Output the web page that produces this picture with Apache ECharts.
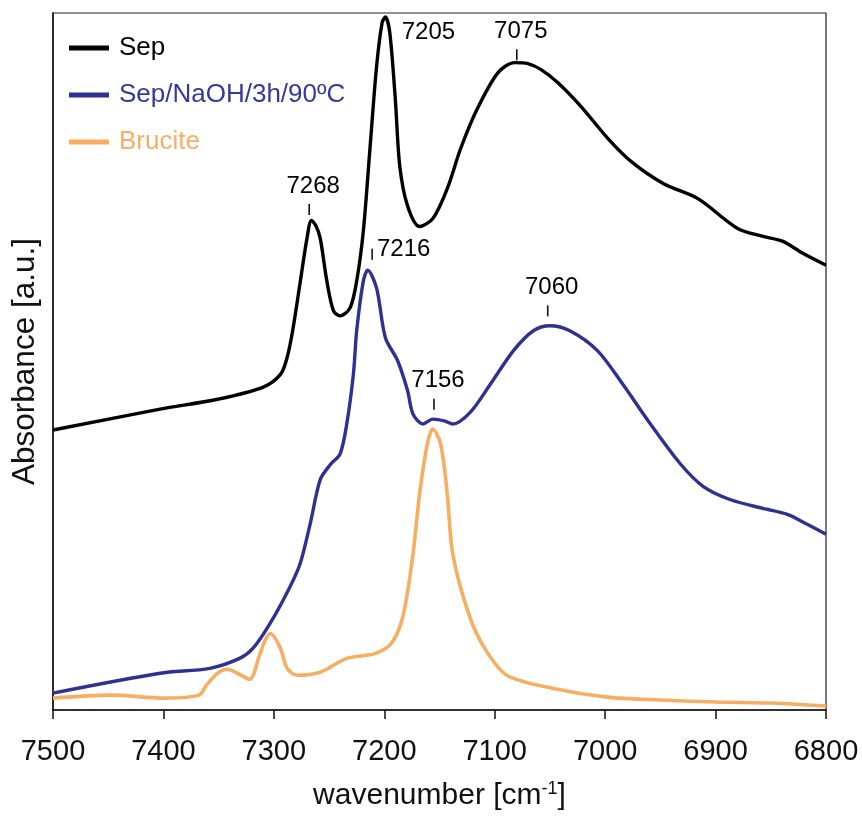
<!DOCTYPE html>
<html>
<head>
<meta charset="utf-8">
<script src="https://cdn.jsdelivr.net/npm/echarts@6/dist/echarts.min.js"></script>
<style>
html,body{margin:0;padding:0;background:#fff;}
#chart{width:862px;height:816px;}
</style>
</head>
<body>
<div id="chart"></div>
<script>
// ---- data (wavenumber in cm-1, absorbance in arbitrary units) ----
var seriesNames = ['Sep', 'Sep/NaOH/3h/90ºC', 'Brucite'];

var sepWn  = [7500,7403,7351,7310,7294,7288,7283,7276,7270,7266,7262,7258,7252,7246,7240,7231,7225,7219,7213,7207,7202,7199,7195,7190,7186,7179,7168,7156,7143,7131,7116,7097,7082,7070,7058,7043,7022,6997,6976,6947,6916,6880,6857,6839,6821,6800];
var sepAbs = [282,303,313,325,338,355,382,432,475,493,488,475,432,402,397,405,432,482,565,648,692,698,682,615,548,508,487,495,525,565,605,642,652,651,645,632,608,575,552,530,515,485,477,472,460,448];

var naohWn  = [7500,7403,7358,7331,7319,7303,7285,7276,7267,7258,7249,7240,7234,7228,7225,7219,7215,7207,7199,7188,7179,7174,7165,7156,7145,7138,7122,7104,7083,7065,7050,7032,7007,6984,6959,6932,6911,6887,6857,6835,6817,6800];
var naohAbs = [17,37,42,52,62,88,125,148,188,232,247,258,288,338,382,432,443,425,375,352,322,298,288,293,291,288,300,328,362,382,387,382,362,328,288,248,225,212,203,197,187,177];

var bruWn  = [7500,7448,7399,7368,7361,7351,7342,7333,7322,7313,7308,7303,7294,7288,7279,7258,7234,7208,7193,7183,7174,7168,7161,7156,7149,7143,7138,7123,7109,7089,7048,6998,6948,6899,6849,6800];
var bruAbs = [12,15,12,15,25,37,41,37,31,55,70,77,62,42,35,38,52,57,68,95,157,218,268,283,268,218,157,95,62,35,22,13,10,8,7,4];

// peak annotations
var annoText = ['7268', '7205', '7075', '7216', '7060', '7156'];
var annoWn   = [7268, 7160, 7080, 7211, 7052, 7155];
var annoAbs  = [504, 682, 660, 459, 402, 308];

var xTicks = [7500, 7400, 7300, 7200, 7100, 7000, 6900, 6800];

// ---- build ----
function pairs(xs, ys){ return xs.map(function(x,i){ return [x, ys[i]]; }); }

var colors = ['#000000', '#2e3192', '#f7ae62'];
var legendTextColors = ['#000000', '#34399a', '#f9ae66'];

var annoData = annoText.map(function(t, i){
  var item = { value: [annoWn[i], annoAbs[i]], name: t };
  if (t === '7205') {
    item.symbolSize = 0;
    item.label = { position: 'inside' };
  } else if (t === '7216') {
    item.label = { position: 'right', distance: 4, offset: [0, -5] };
  } else {
    item.label = { position: 'top', distance: 6, offset: [4, 0] };
  }
  return item;
});

var FONT = 'Liberation Sans, Arial, Helvetica, sans-serif';

var chart = echarts.init(document.getElementById('chart'), null, {renderer: 'canvas'});
var option = {
  animation: false,
  backgroundColor: '#ffffff',
  textStyle: { fontFamily: FONT },
  grid: {
    left: 53, top: 13, width: 773, height: 702,
    show: true, borderColor: '#222', borderWidth: 1.2, backgroundColor: 'transparent'
  },
  legend: {
    orient: 'vertical',
    left: 64, top: 28,
    itemWidth: 40, itemHeight: 5,
    itemGap: 17,
    icon: 'rect',
    data: seriesNames.map(function(n, i){
      return { name: n, textStyle: { color: legendTextColors[i] } };
    }),
    textStyle: { fontSize: 26, fontFamily: FONT, lineHeight: 30, padding: [0, 0, 0, 5] }
  },
  xAxis: {
    type: 'value',
    min: 6800, max: 7500, interval: 100,
    inverse: true,
    axisLine: { show: true, lineStyle: { color: '#111', width: 1.5 } },
    axisTick: { show: true, inside: false, length: 9, lineStyle: { color: '#111', width: 1.5 } },
    axisLabel: {
      fontSize: 29, color: '#111', margin: 27, fontFamily: FONT,
      formatter: function(v){ return xTicks.indexOf(v) >= 0 ? String(v) : ''; }
    },
    splitLine: { show: false },
    name: 'wavenumber [cm{sup|-1}]',
    nameLocation: 'middle',
    nameGap: 70,
    nameTextStyle: {
      fontSize: 30, color: '#111', fontFamily: FONT,
      rich: { sup: { fontSize: 18, verticalAlign: 'top', color: '#111', fontFamily: FONT, padding: [0, 0, 14, 0] } }
    }
  },
  yAxis: {
    type: 'value',
    min: 0, max: 702,
    axisLine: { show: true, lineStyle: { color: '#111', width: 1.5 } },
    axisTick: { show: false },
    axisLabel: { show: false },
    splitLine: { show: false },
    name: 'Absorbance [a.u.]',
    nameLocation: 'middle',
    nameGap: 12,
    nameTextStyle: { fontSize: 31.5, color: '#111', fontFamily: FONT }
  },
  series: [
    {
      name: seriesNames[0], type: 'line', data: pairs(sepWn, sepAbs),
      showSymbol: false, smooth: 0.3, color: colors[0],
      lineStyle: { width: 3.4, color: colors[0] }, z: 3
    },
    {
      name: seriesNames[1], type: 'line', data: pairs(naohWn, naohAbs),
      showSymbol: false, smooth: 0.3, color: colors[1],
      lineStyle: { width: 3.4, color: colors[1] }, z: 2
    },
    {
      name: seriesNames[2], type: 'line', data: pairs(bruWn, bruAbs),
      showSymbol: false, smooth: 0.3, color: colors[2],
      lineStyle: { width: 3.6, color: colors[2] }, z: 1
    },
    {
      name: 'annotations', type: 'scatter', data: annoData,
      symbol: 'rect', symbolSize: [1.6, 11],
      itemStyle: { color: '#111', opacity: 1 },
      silent: true, z: 5,
      label: {
        show: true, color: '#000', opacity: 1, fontSize: 24, fontFamily: FONT,
        textBorderWidth: 0,
        formatter: function(p){ return p.name; }
      }
    }
  ]
};
chart.setOption(option);
</script>
</body>
</html>
